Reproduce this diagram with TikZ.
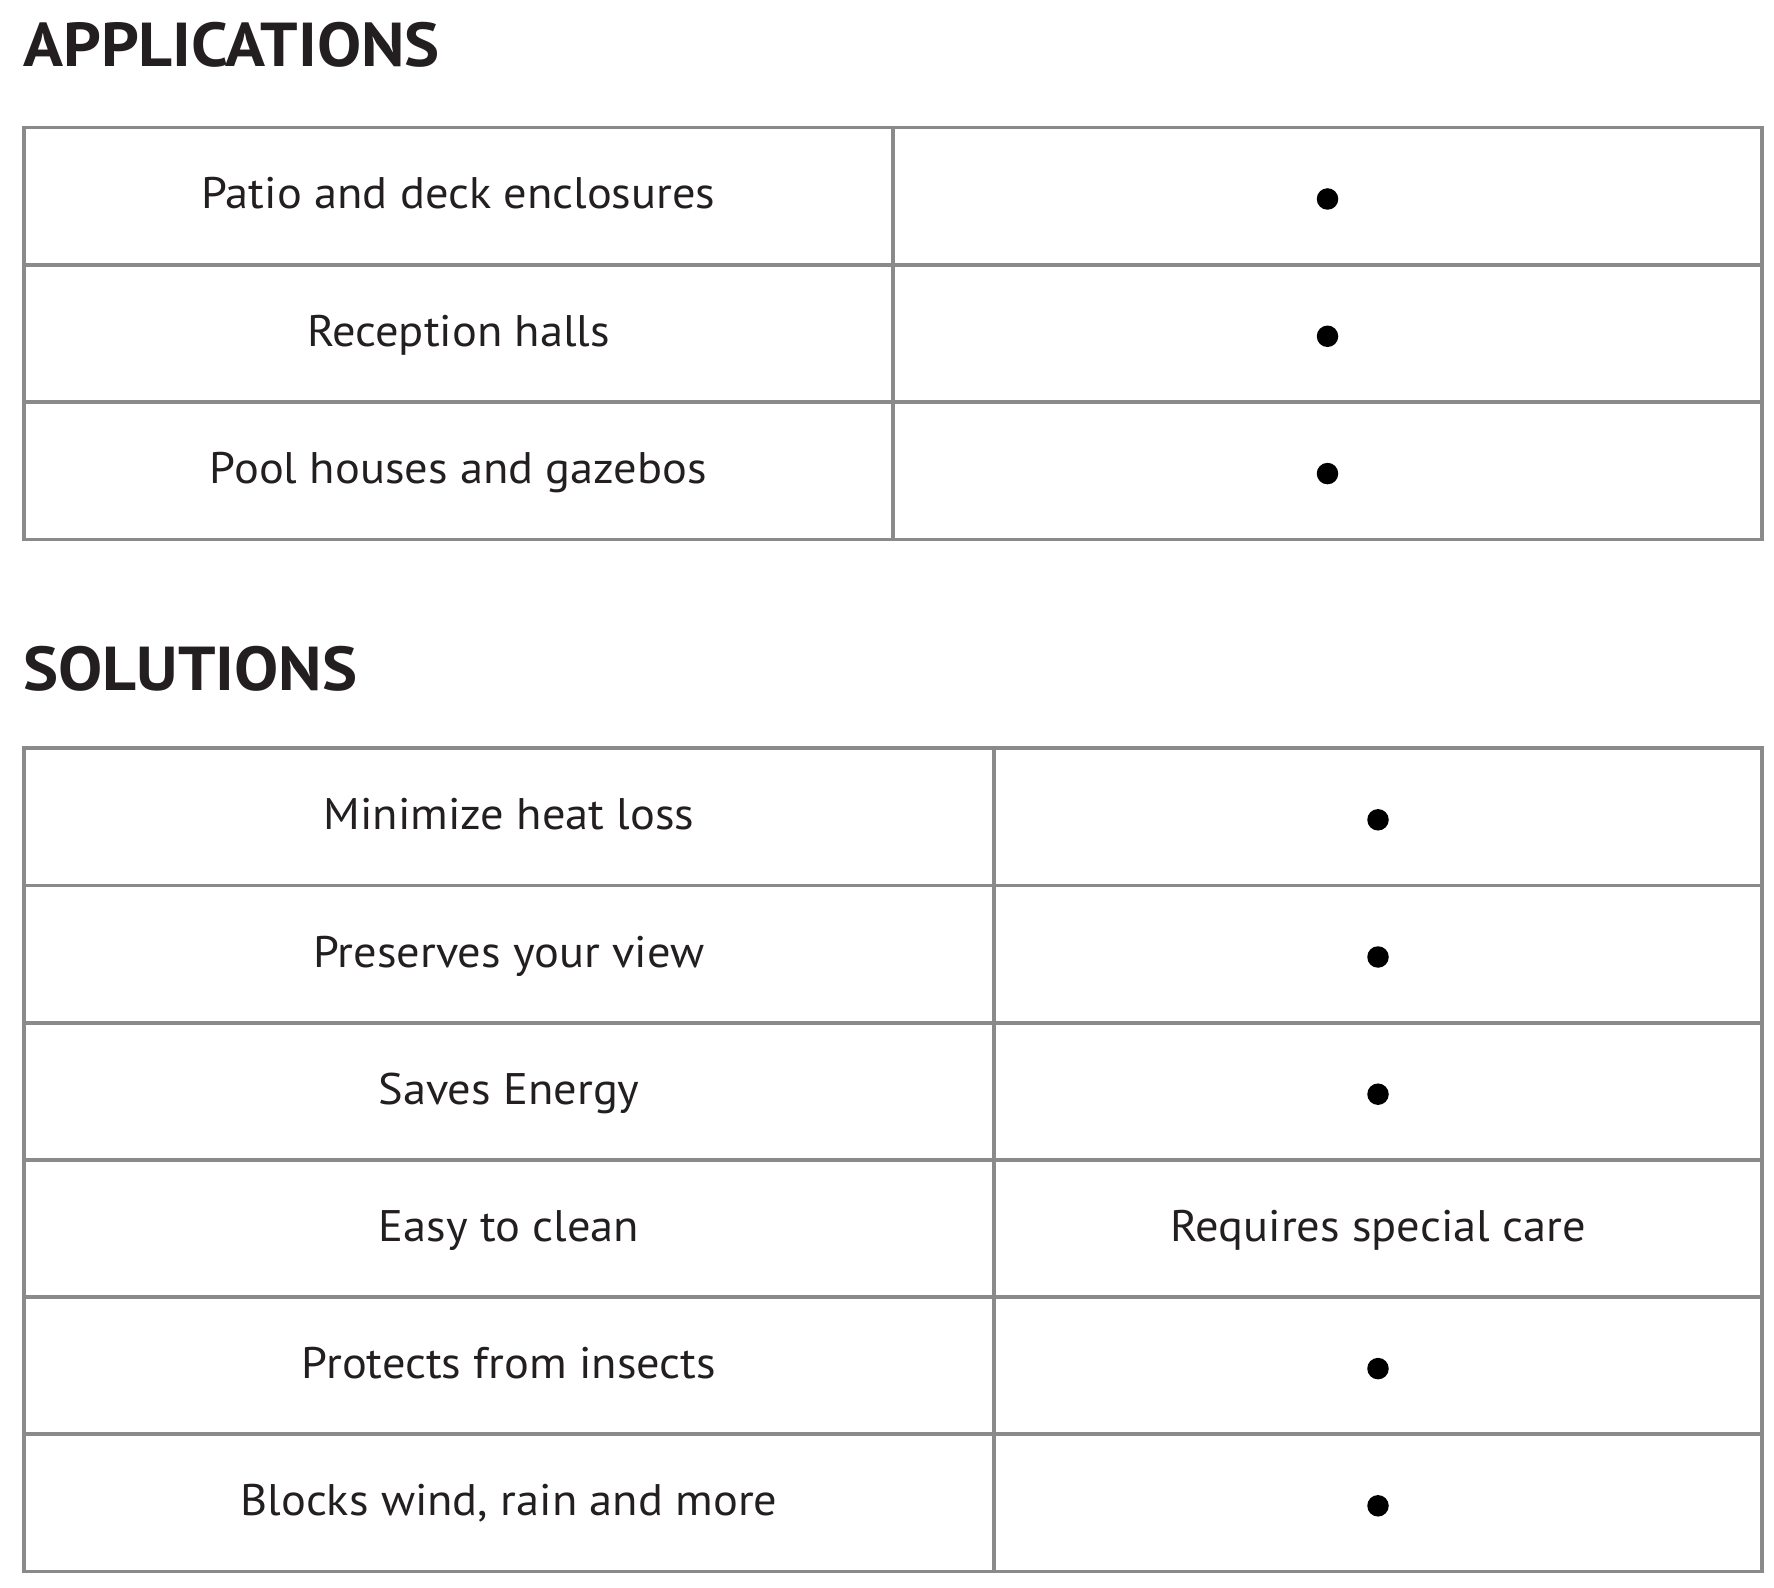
\documentclass[tikz,border=0pt]{standalone}
\usepackage{fontspec}
\setmainfont{PT Sans}
\newfontfamily\bodyfont{PT Sans}[FakeStretch=1.05]
\newfontfamily\headfont{PT Sans}[FakeStretch=1.066]
\definecolor{rulegray}{HTML}{8A8A8A}
\definecolor{ink}{HTML}{231F20}
\begin{document}
\begin{tikzpicture}[x=0.5pt,y=-0.5pt,
  gridline/.style={draw=rulegray,line width=1.85pt},
  celltext/.style={anchor=base,inner sep=0pt,font=\bodyfont\fontsize{22.1}{26}\selectfont,text=ink},
  titletext/.style={anchor=base west,inner sep=0pt,font=\headfont\fontsize{31}{36}\selectfont\bfseries,text=ink},
  bulletdot/.style={circle,fill=black,inner sep=0pt,minimum size=10.75pt}]
\useasboundingbox (0,0) rectangle (1774,1588);
% titles
\node[titletext] (t1) at (23,66.7) {APPLICATIONS};
\node[titletext] (t2) at (23,691) {SOLUTIONS};
% table 1
\def\Ta{127.5}\def\Ha{137.3}
\draw[gridline] (24,\Ta) rectangle (1762,\Ta+3*\Ha);
\draw[gridline] (893,\Ta) -- (893,\Ta+3*\Ha);
\foreach \i in {1,2} \draw[gridline] (24,\Ta+\i*\Ha) -- (1762,\Ta+\i*\Ha);
\foreach \txt [count=\i from 0] in {Patio and deck enclosures,Reception halls,Pool houses and gazebos}{
  \node[celltext] (a\i) at (458.5,\Ta+\i*\Ha+81.5) {\txt};
  \node[bulletdot] (ad\i) at (1327.5,\Ta+\i*\Ha+71.5) {};
}
% table 2
\def\Tb{748.3}\def\Hb{137.2}
\draw[gridline] (24,\Tb) rectangle (1762,\Tb+6*\Hb);
\draw[gridline] (994,\Tb) -- (994,\Tb+6*\Hb);
\foreach \i in {1,...,5} \draw[gridline] (24,\Tb+\i*\Hb) -- (1762,\Tb+\i*\Hb);
\foreach \txt [count=\i from 0] in {Minimize heat loss,Preserves your view,Saves Energy,Easy to clean,Protects from insects,{Blocks wind, rain and more}}{
  \node[celltext] (s\i) at (509,\Tb+\i*\Hb+81.5) {\txt};
}
\foreach \i in {0,1,2,4,5}{
  \node[bulletdot] (sd\i) at (1378,\Tb+\i*\Hb+71.5) {};
}
\node[celltext] (sr3) at (1378,\Tb+3*\Hb+81.5) {Requires special care};
\end{tikzpicture}
\end{document}
